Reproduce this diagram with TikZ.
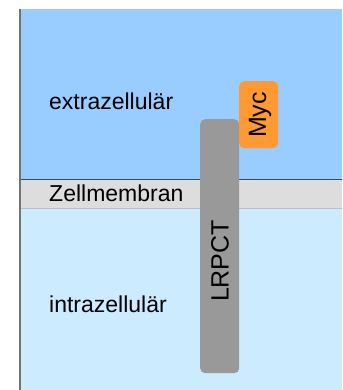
\documentclass[tikz,border=0pt]{standalone}
\usepackage{fontspec}
\setmainfont{Liberation Sans}
\definecolor{extra}{HTML}{99CCFF}
\definecolor{intra}{HTML}{CCEBFF}
\definecolor{memb}{HTML}{DDDDDD}
\definecolor{prot}{HTML}{999999}
\definecolor{myc}{HTML}{FF9933}
\definecolor{edge}{HTML}{3A4A5C}
\begin{document}
\begin{tikzpicture}[x=1pt,y=-1pt,
  lbl/.style={font=\fontsize{23}{27}\selectfont, anchor=base west, inner sep=0pt},
  rlbl/.style={font=\fontsize{25}{29}\selectfont, rotate=90, inner sep=0pt},
  region/.style={draw=none}]
\useasboundingbox (0,0) rectangle (342,390);
\fill[white] (0,0) rectangle (342,390);
% regions
\fill[extra] (20,9) rectangle (342,179);
\fill[memb] (20,179) rectangle (342,208);
\fill[intra] (20,208) rectangle (342,390);
\draw[edge, line width=1pt] (20,179.5) -- (342,179.5);
\draw[black!25, line width=0.6pt] (20,208) -- (342,208);
\draw[black!55, line width=1.2pt] (20,9) -- (20,390);
% proteins
\node[fill=prot, rounded corners=5pt, minimum width=39pt, minimum height=254pt, inner sep=0pt, anchor=north west] (lrpct) at (200,119) {};
\node[fill=myc, rounded corners=5pt, minimum width=39pt, minimum height=67pt, inner sep=0pt, anchor=north west] (mycbox) at (239,81) {};
\node[rlbl] (lrpctlbl) at (220,261) {LRPCT};
\node[rlbl] (myclbl) at (260,115) {Myc};
% labels
\node[lbl] (ex) at (49,110) {extrazellulär};
\node[lbl] (zm) at (49,201.5) {Zellmembran};
\node[lbl] (in) at (49,312) {intrazellulär};
\end{tikzpicture}
\end{document}
